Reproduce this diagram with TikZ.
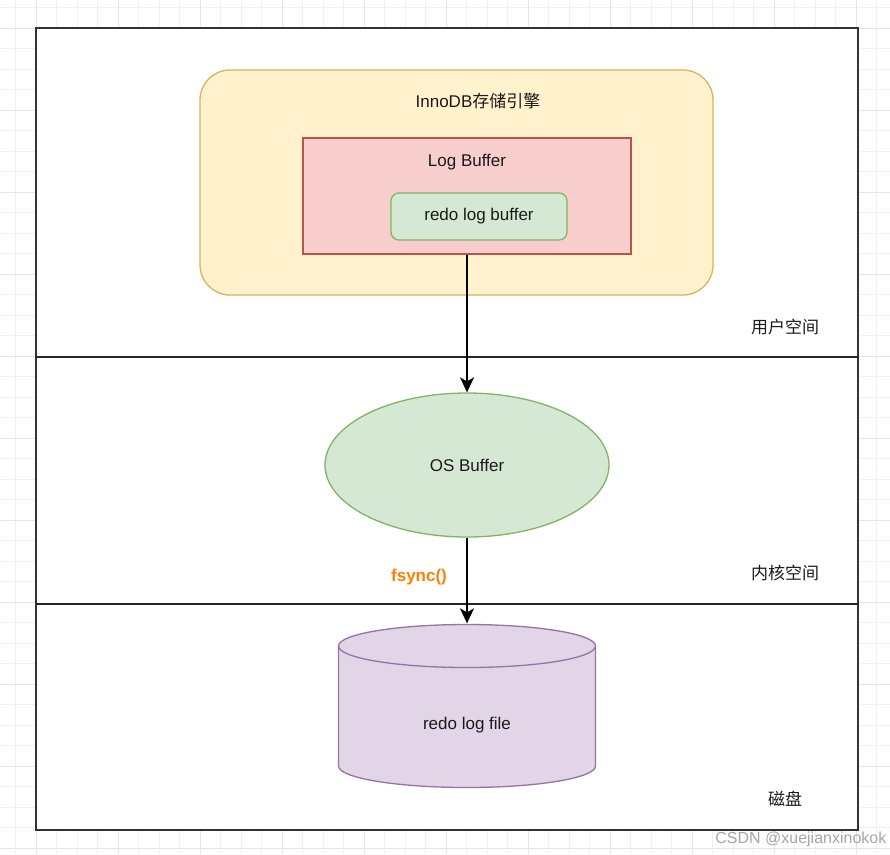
\documentclass[tikz,border=0pt]{standalone}
\usepackage{fontspec}
\setmainfont{Liberation Sans}
\newfontfamily\cjk{Noto Sans CJK SC}
\usetikzlibrary{shapes.geometric,arrows.meta}
\definecolor{gridminor}{HTML}{F0F0F0}
\definecolor{gridmajor}{HTML}{E4E4E4}
\definecolor{yellowfill}{HTML}{FFF2CC}
\definecolor{yellowline}{HTML}{D6B656}
\definecolor{redfill}{HTML}{F8CECC}
\definecolor{redline}{HTML}{B85450}
\definecolor{greenfill}{HTML}{D5E8D4}
\definecolor{greenline}{HTML}{82B366}
\definecolor{purplefill}{HTML}{E1D5E7}
\definecolor{purpleline}{HTML}{9673A6}
\definecolor{fsyncorange}{HTML}{FF8000}
\definecolor{textcol}{HTML}{1A1A1A}

\begin{document}
\begin{tikzpicture}[x=1pt,y=-1pt,inner sep=0pt,line width=1.3pt,
				font=\fontsize{17}{20}\selectfont,text=textcol,
				minorgrid/.style={draw=gridminor,line width=0.8pt},
				majorgrid/.style={draw=gridmajor,line width=1pt},
				frame/.style={draw=black!80,fill=white,line width=2pt},
				divider/.style={draw=black!85,line width=1.5pt},
				engine/.style={draw=yellowline,fill=yellowfill,rounded corners=30},
				logbox/.style={draw=redline,fill=redfill},
				redobox/.style={draw=greenline,fill=greenfill,rounded corners=8},
				osbox/.style={ellipse,draw=greenline,fill=greenfill},
				diskbox/.style={draw=purpleline,fill=purplefill},
				arrow/.style={draw=black,line width=1.5pt,-{Stealth[length=15pt,width=14pt,inset=4pt]}},
				fsync/.style={text=fsyncorange,font=\fontsize{17}{20}\selectfont\bfseries},
				watermark/.style={text=black!35,font=\fontsize{16}{18}\selectfont}]
				
				\useasboundingbox (0,0) rectangle (890,854);
				
				% grid
				\foreach \k in {-2,...,42}{
					\draw[minorgrid] ({36+20.5*\k},0) -- ({36+20.5*\k},854);
				}
				\foreach \k in {-2,...,40}{
					\draw[minorgrid] (0,{28+20.5*\k}) -- (890,{28+20.5*\k});
				}
				\foreach \k in {0,...,10}{
					\draw[majorgrid] ({36+82*\k},0) -- ({36+82*\k},854);
					\draw[majorgrid] (0,{28+82*\k}) -- (890,{28+82*\k});
				}
				
				% frame and layers
				\node[frame,minimum width=822,minimum height=802] (frame) at (447,429) {};
				\coordinate (userbottom) at (36,357);
				\coordinate (kernelbottom) at (36,604);
				\draw[divider] (userbottom) -- (userbottom -| frame.east);
				\draw[divider] (kernelbottom) -- (kernelbottom -| frame.east);
				
				\node (user) at (785,327) {\cjk 用户空间};
				\node (kernel) at (785,573) {\cjk 内核空间};
				\node (disk) at (785,799) {\cjk 磁盘};
				
				% user space
				\node[engine,minimum width=513,minimum height=225] (innodb) at (456.5,182.5) {};
				\node (innolabel) at (478,101) {InnoDB{\cjk 存储引擎}};
				\node[logbox,minimum width=328,minimum height=116] (logbuf) at (467,196) {};
				\node (loglabel) at (467,162) {Log Buffer};
				\node[redobox,minimum width=176,minimum height=47] (redobuf) at (479,216.5) {redo log buffer};
				
				% kernel space
				\node[osbox,minimum width=284,minimum height=144] (os) at (467,465) {OS Buffer};
				
				% disk
				\path[diskbox] (338.5,646) -- (338.5,766)
					arc[start angle=180,end angle=0,x radius=128.5,y radius=21.5]
					-- (595.5,646)
					arc[start angle=0,end angle=-180,x radius=128.5,y radius=21.5] -- cycle;
				\draw[purpleline] (338.5,646) arc[start angle=180,end angle=0,x radius=128.5,y radius=21.5];
				\node[minimum width=257,minimum height=202] (file) at (467,725) {redo log file};
				
				\draw[arrow] (logbuf.south) -- (os.north);
				\draw[arrow] (os.south) -- (file.north);
				\node[fsync] (fsynclabel) at (419,577) {fsync()};
				
				\node[watermark,anchor=east] (mark) at (887,839) {CSDN @xuejianxinokok};
				
\end{tikzpicture}
\end{document}
